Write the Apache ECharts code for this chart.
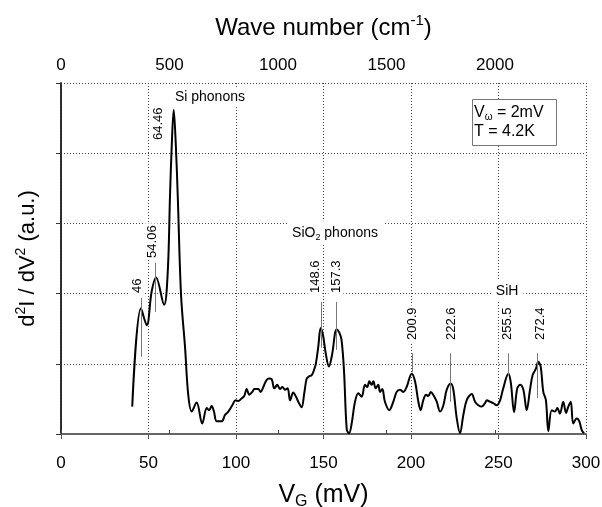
<!DOCTYPE html>
<html>
<head>
<meta charset="utf-8">
<script src="https://cdn.jsdelivr.net/npm/echarts@6.0.0/dist/echarts.min.js"></script>
<style>
  html, body { margin: 0; padding: 0; background: #fff; }
  #chart { width: 602px; height: 507px; }
</style>
</head>
<body>
<div id="chart"></div>
<script>
// d2I/dV2 spectrum (V_G in mV, signal in arbitrary units)
const vG = [
  40.7, 45.7, 49.0, 51.8, 54.3, 58.9, 61.0, 62.3, 63.3, 64.4, 65.6, 66.7, 68.6, 70.9, 72.7, 74.7,
  77.5, 80.7, 83.3, 84.6, 86.1, 87.4, 89.0, 91.8, 93.7, 95.6, 97.9, 99.8, 101.3, 103.3, 104.7,
  106.1, 107.6, 109.3, 110.5, 112.7, 114.1, 115.6, 117.5, 118.9, 120.4, 121.9, 123.6, 125.1,
  126.5, 128.0, 129.5, 130.9, 132.7, 134.3, 135.6, 137.5, 139.0, 140.4, 141.7, 143.3, 144.7,
  145.7, 147.0, 148.4, 149.7, 151.4, 153.1, 154.9, 157.5, 159.1, 160.3, 161.7, 163.3, 164.6,
  166.1, 168.0, 169.9, 171.8, 173.7, 175.0, 176.2, 177.5, 178.5, 179.8, 181.3, 182.3, 183.6,
  185.1, 187.6, 189.9, 191.8, 193.7, 195.6, 197.5, 200.4, 202.3, 204.2, 205.5, 207.0, 208.6,
  209.9, 211.3, 212.7, 214.7, 216.6, 218.5, 220.4, 222.7, 224.2, 226.1, 228.0, 229.9, 231.8,
  234.7, 236.6, 238.5, 240.4, 242.3, 243.4, 245.1, 247.0, 249.0, 250.9, 252.7, 255.6, 257.0,
  258.9, 260.7, 262.3, 264.2, 266.1, 268.0, 269.5, 271.4, 272.7, 274.1, 275.6, 277.1, 278.5,
  280.4, 282.3, 283.6, 285.1, 287.0, 288.6, 289.9, 291.3, 292.7, 294.7, 296.2, 297.5, 298.9
];
const signal = [
  0.39, 1.79, 1.55, 2.03, 2.23, 1.84, 2.31, 3.40, 4.12, 4.62, 4.12, 3.40, 1.98, 1.23, 0.56, 0.32,
  0.45, 0.15, 0.37, 0.34, 0.40, 0.32, 0.18, 0.18, 0.27, 0.32, 0.41, 0.48, 0.47, 0.51, 0.54,
  0.64, 0.56, 0.60, 0.64, 0.64, 0.60, 0.67, 0.77, 0.79, 0.78, 0.65, 0.70, 0.64,
  0.67, 0.63, 0.65, 0.48, 0.59, 0.53, 0.46, 0.38, 0.58, 0.79, 0.82, 0.84, 0.92,
  1.01, 1.24, 1.51, 1.41, 1.13, 0.96, 1.13, 1.49, 1.44, 1.34, 0.91, 0.06, 0.01,
  0.15, 0.46, 0.58, 0.53, 0.70, 0.67, 0.75, 0.70, 0.75, 0.65, 0.70, 0.60, 0.64,
  0.46, 0.34, 0.46, 0.60, 0.63, 0.60, 0.67, 0.86, 0.75, 0.46, 0.34, 0.48, 0.56,
  0.54, 0.60, 0.56, 0.46, 0.32, 0.41, 0.63, 0.72, 0.63, 0.23, 0.01, 0.27, 0.48,
  0.57, 0.46, 0.41, 0.39, 0.44, 0.48, 0.46, 0.44, 0.41, 0.48, 0.65, 0.86, 0.74,
  0.31, 0.65, 0.70, 0.63, 0.34, 0.63, 0.84, 0.93, 1.03, 0.96, 0.60, 0.48, 0.04,
  0.34, 0.32, 0.37, 0.29, 0.46, 0.30, 0.39, 0.46, 0.15, 0.22, 0.18, 0.06, 0.01
];

// peak annotations
const peakNames = ['46', '54.06', '64.46', '148.6', '157.3', '200.9', '222.6', '255.5', '272.4'];
const peakLabelX = [43.4, 52.0, 55.4, 145.1, 157.1, 200.6, 222.9, 254.9, 273.7];
const peakLabelY = [1.98, 2.48, 4.16, 1.98, 1.98, 1.31, 1.31, 1.31, 1.31];
const markerX = [46, 54.06, 148.6, 157.3, 200.9, 222.6, 255.5, 272.4];
const markerTop = [1.94, 2.44, 1.88, 1.88, 1.15, 1.15, 1.15, 1.15];
const markerBottom = [1.10, 1.74, 1.23, 1.20, 0.88, 0.46, 0.84, 0.51];

// group labels
const groupNames = ['Si phonons', '{t|SiO}{sub|2}{t| phonons}', 'SiH'];
const groupX = [85.1, 156.6, 254.9];
const groupY = [4.80, 2.86, 2.04];

const meVToCm = 8.0655;
const topTicks = [0, 500, 1000, 1500, 2000];

const chart = echarts.init(document.getElementById('chart'), null, { renderer: 'canvas' });

const font = 'Liberation Sans, Arial, sans-serif';
const dotted = { color: '#444', width: 1, type: [1, 2] };

const option = {
  animation: false,
  backgroundColor: '#fff',
  textStyle: { fontFamily: font },
  grid: { left: 61, right: 16, top: 83, bottom: 73, show: false, outerBoundsMode: 'none', containLabel: false },
  title: {
    text: '{t|V}{sub|ω}{t| = 2mV}\n{t|T = 4.2K}',
    left: 472,
    top: 98,
    padding: [5, 13, 6, 2],
    borderColor: '#777',
    borderWidth: 1,
    backgroundColor: '#fff',
    textStyle: {
      fontWeight: 'normal',
      rich: {
        t: { fontSize: 16, lineHeight: 19, color: '#000', fontFamily: font, fontWeight: 'normal' },
        sub: { fontSize: 10, lineHeight: 19, verticalAlign: 'bottom', color: '#000', fontFamily: font, fontWeight: 'normal' }
      }
    }
  },
  xAxis: [
    {
      type: 'value',
      min: 0,
      max: 300,
      interval: 50,
      position: 'bottom',
      name: '{t|V}{sub|G}{t| (mV)}',
      nameLocation: 'middle',
      nameGap: 46,
      nameTextStyle: {
        rich: {
          t: { fontSize: 25, lineHeight: 30, color: '#000', fontFamily: font },
          sub: { fontSize: 16, lineHeight: 30, verticalAlign: 'bottom', color: '#000', fontFamily: font }
        }
      },
      axisLine: { lineStyle: { color: '#666', width: 2 } },
      axisTick: { length: 5, lineStyle: { color: '#555', width: 1 } },
      axisLabel: { fontSize: 17, color: '#000', margin: 21 },
      splitLine: { show: true, lineStyle: dotted }
    },
    {
      type: 'value',
      min: 0,
      max: 300 * meVToCm,
      position: 'top',
      name: '{t|Wave number (cm}{sup|-1}{t|)}',
      nameLocation: 'middle',
      nameGap: 40,
      nameTextStyle: {
        rich: {
          t: { fontSize: 24, lineHeight: 30, color: '#000', fontFamily: font },
          sup: { fontSize: 15, lineHeight: 30, verticalAlign: 'top', color: '#000', fontFamily: font }
        }
      },
      axisLine: { show: false },
      axisTick: { show: true, length: 4, customValues: topTicks, lineStyle: { color: '#444' } },
      axisLabel: {
        fontSize: 17,
        color: '#000',
        margin: 9,
        customValues: topTicks,
        formatter: (v) => String(Math.round(v))
      },
      splitLine: { show: false }
    }
  ],
  yAxis: [
    {
      type: 'value',
      min: 0,
      max: 5,
      interval: 1,
      position: 'left',
      name: '{t|d}{sup|2}{t|I / dV}{sup|2}{t| (a.u.)}',
      nameLocation: 'middle',
      nameGap: 19,
      nameTextStyle: {
        rich: {
          t: { fontSize: 22, lineHeight: 28, color: '#000', fontFamily: font },
          sup: { fontSize: 14, lineHeight: 28, verticalAlign: 'top', color: '#000', fontFamily: font }
        }
      },
      axisLine: { lineStyle: { color: '#222', width: 1.5 } },
      axisTick: { length: 5, lineStyle: { color: '#333' } },
      axisLabel: { show: false },
      splitLine: { show: true, lineStyle: dotted }
    },
    {
      type: 'value',
      min: 0,
      max: 5,
      position: 'right',
      axisLine: { show: true, lineStyle: { color: '#222', width: 1.5 } },
      axisTick: { show: false },
      axisLabel: { show: false },
      splitLine: { show: false }
    }
  ],
  series: [
    {
      type: 'line',
      name: 'd2I/dV2',
      data: vG.map((v, i) => [v, signal[i]]),
      showSymbol: false,
      smooth: 0.35,
      lineStyle: { color: '#000', width: 2 },
      z: 4,
      markLine: {
        silent: true,
        symbol: 'none',
        label: { show: false },
        lineStyle: { color: '#777', width: 1, type: 'solid' },
        data: markerX.map((x, i) => [
          { coord: [x, markerTop[i]] },
          { coord: [x, markerBottom[i]] }
        ])
      }
    },
    {
      type: 'scatter',
      name: 'peaks',
      silent: true,
      symbolSize: 1,
      itemStyle: { color: 'rgba(0,0,0,0)', opacity: 1 },
      data: peakLabelX.map((x, i) => [x, peakLabelY[i]]),
      z: 6,
      label: {
        show: true,
        position: 'inside',
        rotate: 90,
        align: 'left',
        verticalAlign: 'middle',
        formatter: (p) => peakNames[p.dataIndex],
        fontSize: 13,
        color: '#000',
        opacity: 1,
        textBorderWidth: 0,
        textBorderColor: 'transparent',
        backgroundColor: '#fff',
        padding: [1, 2]
      }
    },
    {
      type: 'scatter',
      name: 'groups',
      silent: true,
      symbolSize: 1,
      itemStyle: { color: 'rgba(0,0,0,0)', opacity: 1 },
      data: groupX.map((x, i) => [x, groupY[i]]),
      z: 6,
      label: {
        show: true,
        position: 'inside',
        formatter: (p) => groupNames[p.dataIndex],
        backgroundColor: '#fff',
        padding: [3, 5],
        opacity: 1,
        textBorderWidth: 0,
        textBorderColor: 'transparent',
        rich: {
          t: { fontSize: 14, lineHeight: 18, color: '#000', fontFamily: font, textBorderWidth: 0 },
          sub: { fontSize: 9, lineHeight: 18, verticalAlign: 'bottom', color: '#000', fontFamily: font, textBorderWidth: 0 }
        },
        fontSize: 14,
        color: '#000'
      }
    }
  ]
};

chart.setOption(option);
</script>
</body>
</html>
